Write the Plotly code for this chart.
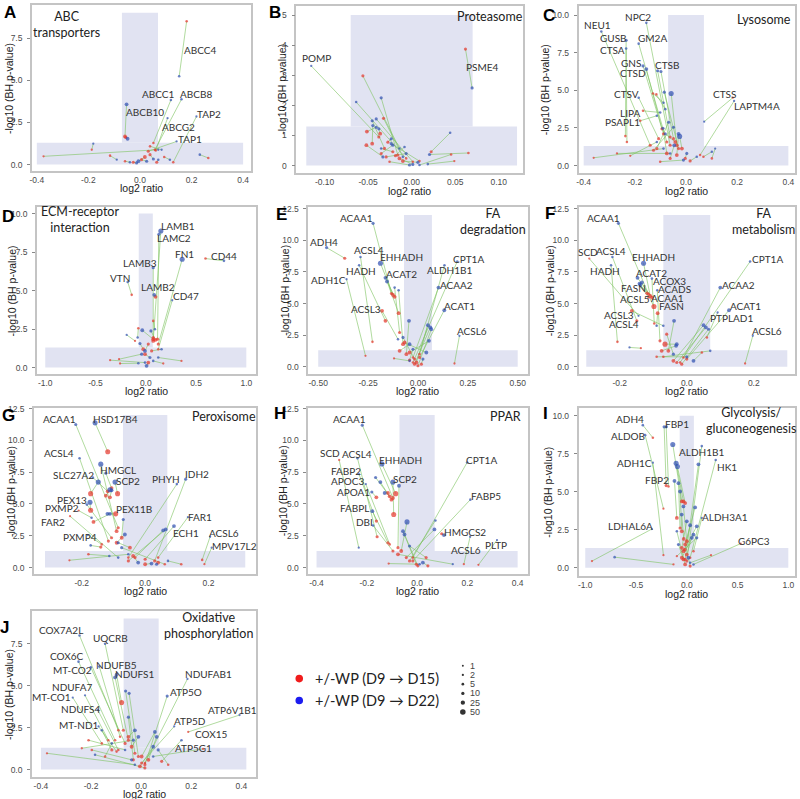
import math
import plotly.graph_objects as go

W, H = 800, 799

# ---------------- DATA ----------------
# Each panel: paired proteins, red = +/-WP (D9->D15), blue = +/-WP (D9->D22)
# x = log2 ratio, y = -log10(BH p-value), n = number of peptides (marker size)

# A: ABC transporters
A_red_x = [0.181, 0.052, 0.058, -0.058, -0.055, 0.061, 0.129, 0.032, -0.374, -0.187, -0.116, 0.265, 0.019, 0.039, -0.026, 0.006, -0.058, 0.094, 0.065, 0.039]
A_red_y = [8.50, 1.28, 0.88, 1.67, 1.61, 0.84, 0.14, 0.79, 0.49, 0.88, 0.53, 0.39, 0.45, 0.59, 0.14, 0.29, 0.20, 0.45, 0.14, 1.08]
A_red_n = [2, 2, 2, 10, 5, 2, 2, 5, 1, 1, 2, 2, 10, 5, 5, 5, 2, 2, 5, 2]
A_blue_x = [0.152, 0.120, 0.161, -0.052, -0.048, 0.107, 0.219, 0.142, 0.071, -0.181, -0.090, 0.232, -0.006, 0.052, -0.013, 0.026, -0.039, 0.116, 0.071, 0.084]
A_blue_y = [5.24, 3.83, 3.87, 3.57, 1.53, 2.75, 2.85, 1.37, 0.88, 1.24, 0.29, 0.59, 0.20, 0.33, 0.10, 0.20, 0.14, 0.29, 0.29, 0.88]
A_blue_n = [2, 2, 2, 10, 10, 1, 1, 1, 1, 1, 1, 2, 10, 5, 5, 5, 2, 2, 2, 1]
A_labels = [(0, 'b', 'ABCC4'), (1, 'b', 'ABCC1'), (2, 'b', 'ABCB8'), (3, 'b', 'ABCB10'),
            (5, 'b', 'ABCG2'), (6, 'b', 'TAP2'), (7, 'b', 'TAP1')]

# B: Proteasome
B_red_x = [-0.0377, 0.0618, -0.056, -0.0063, -0.0159, -0.0323, -0.0312, 0.0224, -0.0514, -0.0361, -0.0453, 0.0453, 0.0652, 0.049, -0.0273, -0.035, -0.0293, -0.0254, -0.014, -0.0101, -0.0186, 0.009, 0.0013, -0.052, -0.0216]
B_red_y = [0.95, 3.87, 2.98, 0.24, 0.35, 1.57, 0.57, 0.46, 1.13, 1.06, 0.73, 0.37, 0.42, 0.15, 0.78, 0.40, 0.29, 0.13, 0.24, 0.15, 0.33, 0.15, 0.13, 0.68, 0.46]
B_red_n = [5, 5, 5, 2, 5, 5, 5, 5, 10, 10, 10, 2, 2, 1, 5, 5, 5, 2, 10, 10, 5, 2, 2, 10, 5]
B_blue_x = [-0.1153, 0.0694, -0.014, -0.0637, -0.035, -0.0101, -0.0453, 0.0442, -0.0407, -0.0377, -0.0446, 0.009, 0.0205, 0.0185, -0.0235, -0.0216, -0.0063, -0.0025, 0.0013, 0.0071, -0.0082, -0.0235, -0.0407, -0.033, -0.035]
B_blue_y = [3.31, 2.58, 0.57, 2.11, 2.25, 0.29, 1.49, 1.09, 1.27, 1.22, 1.33, 0.02, 0.37, 0.05, 0.89, 0.68, 0.40, 0.02, 0.04, 0.11, 0.62, 0.73, 1.55, 0.29, 0.57]
B_blue_n = [1, 5, 2, 2, 5, 2, 5, 2, 5, 5, 5, 2, 5, 2, 5, 5, 5, 5, 5, 5, 2, 5, 5, 5, 2]
B_labels = [(0, 'b', 'POMP'), (1, 'r', 'PSME4')]

# C: Lysosome
C_red_x = [-0.14, -0.062, -0.237, -0.075, -0.231, -0.088, -0.094, -0.062, -0.049, -0.036, -0.029, -0.107, -0.129, -0.116, 0.183, 0.055, -0.168, -0.179, -0.016, -0.361, -0.270, -0.218, -0.075, -0.062, -0.003, 0.016, 0.068, -0.101, -0.042, -0.114, -0.036, 0.101, -0.127]
C_red_y = [1.35, 1.35, 1.96, 1.57, 1.57, 2.11, 2.44, 1.90, 1.79, 1.35, 1.13, 1.79, 4.79, 4.73, 4.51, 0.70, 3.64, 2.98, 1.13, 0.52, 0.81, 0.65, 0.81, 0.48, 0.48, 0.31, 0.59, 0.26, 1.57, 1.13, 0.70, 0.48, 1.02]
C_red_n = [5, 5, 2, 5, 2, 5, 5, 5, 5, 10, 5, 5, 2, 2, 1, 2, 2, 2, 10, 1, 1, 1, 10, 5, 5, 5, 2, 2, 10, 5, 10, 2, 5]
C_blue_x = [-0.331, -0.155, -0.234, -0.185, -0.234, -0.168, -0.155, -0.111, -0.098, -0.058, -0.085, -0.185, -0.088, -0.081, 0.071, 0.188, -0.101, -0.114, -0.025, -0.088, -0.062, -0.114, -0.090, -0.046, 0.003, 0.042, 0.101, -0.010, -0.081, -0.068, -0.029, 0.114, -0.049]
C_blue_y = [8.91, 9.48, 8.32, 8.10, 7.78, 6.62, 6.41, 6.30, 6.25, 4.79, 4.88, 4.51, 4.18, 3.75, 2.92, 4.29, 3.53, 3.31, 1.94, 1.13, 0.81, 1.57, 2.48, 1.35, 0.81, 0.59, 0.92, 0.37, 2.11, 2.88, 2.11, 1.13, 2.55]
C_blue_n = [2, 2, 5, 2, 2, 5, 10, 5, 5, 25, 5, 2, 2, 2, 1, 1, 2, 2, 25, 2, 2, 2, 5, 10, 5, 2, 2, 5, 5, 5, 10, 1, 5]
C_labels = [(0, 'b', 'NEU1'), (1, 'b', 'NPC2'), (2, 'b', 'GUSB'), (3, 'b', 'GM2A'), (4, 'b', 'CTSA'),
            (5, 'b', 'GNS'), (6, 'b', 'CTSD'), (7, 'b', 'CTSB'), (11, 'b', 'CTSV'), (14, 'r', 'CTSS'),
            (15, 'b', 'LAPTM4A'), (16, 'r', 'LIPA'), (17, 'r', 'PSAPL1')]

# D: ECM-receptor interaction
D_red_x = [0.074, 0.117, 0.594, 0.124, 0.074, -0.140, 0.097, 0.124, 0.074, -0.074, -0.107, -0.025, 0.074, 0.097, -0.355, 0.355, -0.266, 0.025, -0.008, 0.174, 0.058, 0.025, -0.256]
D_red_y = [1.73, 1.84, 7.08, 1.52, 1.95, 4.72, 4.59, 1.19, 1.84, 2.55, 1.73, 1.19, 3.03, 1.80, 0.48, 0.43, 0.54, 0.32, 0.87, 0.26, 1.08, 1.52, 0.26]
D_red_n = [10, 5, 2, 5, 5, 2, 10, 2, 10, 2, 1, 10, 2, 10, 1, 1, 1, 10, 10, 1, 5, 5, 1]
D_blue_x = [0.150, 0.130, 0.778, 0.362, 0.074, -0.180, 0.084, 0.263, -0.035, -0.081, -0.190, -0.058, 0.091, 0.051, -0.008, 0.124, -0.041, 0.008, 0.041, 0.074, 0.157, -0.008, -0.074]
D_blue_y = [8.87, 8.66, 6.93, 7.03, 6.49, 5.56, 4.72, 4.37, 2.42, 1.95, 2.12, 1.56, 2.49, 2.38, 0.32, 0.65, 0.87, 0.11, 0.65, 0.43, 1.19, 1.08, 0.28]
D_blue_n = [25, 5, 2, 25, 5, 2, 10, 1, 10, 2, 1, 5, 2, 5, 2, 2, 5, 10, 5, 2, 2, 10, 2]
D_labels = [(0, 'b', 'LAMB1'), (1, 'b', 'LAMC2'), (2, 'b', 'CD44'), (3, 'b', 'FN1'), (4, 'b', 'LAMB3'),
            (5, 'b', 'VTN'), (6, 'b', 'LAMB2'), (7, 'b', 'CD47')]

# E: FA degradation
E_red_x = [-0.133, -0.367, -0.228, -0.125, -0.163, -0.025, 0.008, -0.263, -0.117, -0.097, -0.025, -0.092, -0.075, 0.008, -0.058, -0.008, -0.017, 0.0, 0.183, -0.12, -0.042, -0.067, -0.092, -0.042, -0.017, 0.017, -0.18]
E_red_y = [5.79, 8.58, 1.97, 5.68, 3.63, 0.34, 1.0, 0.87, 5.53, 4.24, 0.74, 2.71, 1.79, 0.74, 1.0, 0.34, 0.21, 0.08, 0.26, 0.66, 1.13, 1.92, 1.26, 0.53, 0.61, 0.21, 4.42]
E_red_n = [5, 5, 2, 10, 10, 2, 2, 1, 10, 10, 2, 5, 10, 5, 10, 10, 5, 5, 1, 1, 10, 10, 10, 5, 5, 5, 10]
E_blue_x = [-0.225, -0.458, -0.288, -0.188, -0.295, 0.197, 0.133, -0.358, -0.163, -0.155, 0.103, -0.117, -0.097, 0.132, -0.045, 0.050, 0.062, 0.067, 0.208, -0.042, 0.055, 0.042, -0.042, -0.025, -0.075, 0.025, -0.1]
E_blue_y = [11.34, 9.42, 8.68, 8.18, 8.03, 8.32, 8.03, 6.92, 7.03, 6.74, 6.26, 6.26, 6.05, 4.47, 3.63, 3.29, 3.11, 2.97, 2.45, 0.47, 2.05, 1.13, 1.79, 1.39, 2.32, 0.61, 2.18]
E_blue_n = [5, 5, 2, 25, 2, 2, 2, 1, 10, 10, 10, 2, 2, 10, 10, 10, 10, 10, 1, 2, 10, 10, 10, 5, 5, 5, 2]
E_labels = [(0, 'b', 'ACAA1'), (1, 'b', 'ADH4'), (2, 'b', 'ACSL4'), (3, 'b', 'EHHADH'), (4, 'b', 'HADH'),
            (5, 'b', 'CPT1A'), (6, 'b', 'ALDH1B1'), (7, 'b', 'ADH1C'), (8, 'b', 'ACAT2'), (10, 'b', 'ACAA2'),
            (13, 'b', 'ACAT1'), (18, 'b', 'ACSL6'), (26, 'r', 'ACSL3')]

# F: FA metabolism
F_red_x = [-0.114, -0.291, -0.149, -0.207, -0.109, -0.020, -0.104, -0.098, -0.097, -0.080, -0.119, -0.114, -0.087, -0.010, 0.0, 0.060, 0.174, -0.164, -0.137, -0.055, -0.040, -0.030, -0.015, -0.065, -0.075, -0.060, 0.045, -0.070, -0.090]
F_red_y = [5.74, 8.55, 3.63, 1.97, 5.61, 0.34, 5.47, 4.76, 3.42, 2.05, 5.82, 5.47, 4.24, 0.74, 0.61, 2.32, 0.26, 4.42, 1.47, 1.26, 0.47, 0.34, 0.21, 1.79, 1.26, 2.58, 1.13, 0.79, 0.79]
F_red_n = [5, 1, 5, 2, 10, 2, 10, 25, 2, 5, 5, 2, 10, 2, 5, 2, 1, 10, 1, 10, 10, 5, 5, 25, 10, 5, 2, 2, 2]
F_blue_x = [-0.204, -0.144, -0.222, -0.226, -0.129, 0.189, -0.147, -0.134, -0.104, -0.088, -0.141, -0.139, -0.090, 0.100, 0.126, 0.092, 0.197, -0.070, -0.171, -0.038, 0.050, 0.057, 0.065, -0.030, -0.032, -0.040, 0.020, 0.070, 0.0]
F_blue_y = [11.34, 4.03, 8.68, 8.03, 8.18, 8.32, 7.03, 6.66, 6.97, 6.05, 6.58, 6.47, 3.24, 6.26, 4.47, 4.29, 2.45, 3.24, 1.53, 3.63, 3.29, 3.11, 2.97, 1.79, 1.66, 1.0, 0.47, 1.26, 0.79]
F_blue_n = [5, 1, 2, 2, 25, 2, 10, 10, 2, 2, 10, 10, 2, 10, 10, 1, 1, 2, 1, 10, 10, 10, 5, 10, 10, 5, 10, 2, 5]
F_labels = [(0, 'b', 'ACAA1'), (0, 'r', 'ACAA1'), (1, 'r', 'SCD'), (2, 'b', 'ACSL4'), (2, 'r', 'ACSL4'),
            (3, 'b', 'HADH'), (4, 'b', 'EHHADH'), (5, 'b', 'CPT1A'), (6, 'b', 'ACAT2'), (8, 'b', 'ACOX3'),
            (9, 'b', 'ACADS'), (10, 'r', 'FASN'), (11, 'r', 'ACSL5'), (12, 'r', 'FASN'), (13, 'b', 'ACAA2'),
            (14, 'b', 'ACAT1'), (15, 'b', 'PTPLAD1'), (16, 'b', 'ACSL6'), (17, 'r', 'ACSL3')]

# G: Peroxisome
G_red_x = [-0.085, -0.118, -0.116, -0.090, -0.106, -0.118, -0.087, -0.053, 0.030, -0.172, -0.124, -0.111, -0.106, -0.172, -0.210, -0.093, -0.237, -0.163, 0.041, 0.0, -0.032, -0.053, -0.137, 0.180, 0.187, -0.140, -0.239, -0.074, -0.090, -0.048, -0.038, 0.0, 0.041, -0.179, 0.114, 0.062]
G_red_y = [3.13, 9.11, 2.08, 2.86, 6.25, 5.99, 5.81, 0.78, 0.52, 5.81, 5.65, 5.52, 2.34, 4.50, 4.48, 4.22, 4.04, 3.59, 0.78, 0.65, 0.78, 0.52, 1.82, 0.60, 0.26, 1.61, 0.57, 2.34, 1.95, 1.56, 0.91, 0.26, 0.39, 1.04, 0.26, 0.26]
G_red_n = [5, 25, 5, 10, 10, 10, 25, 2, 5, 25, 10, 10, 5, 25, 1, 25, 1, 10, 2, 5, 5, 5, 2, 2, 1, 5, 1, 10, 10, 10, 10, 10, 10, 2, 2, 2]
G_blue_x = [-0.219, -0.158, -0.207, -0.140, -0.124, -0.165, -0.095, 0.100, 0.128, -0.148, -0.111, -0.106, -0.184, -0.174, -0.169, -0.119, -0.085, -0.111, 0.135, 0.091, 0.057, 0.065, -0.181, 0.205, 0.210, -0.172, -0.053, -0.069, -0.064, -0.085, -0.022, 0.020, 0.036, -0.113, 0.072, -0.074]
G_blue_y = [11.25, 11.38, 8.59, 8.13, 7.42, 7.08, 6.72, 6.56, 6.95, 6.72, 6.12, 6.07, 4.95, 5.13, 3.91, 4.22, 0.78, 4.22, 3.96, 3.26, 2.92, 3.0, 2.55, 2.42, 1.56, 1.74, 1.04, 3.78, 2.60, 1.95, 0.39, 0.31, 0.26, 0.91, 0.52, 1.56]
G_blue_n = [5, 25, 2, 25, 5, 2, 25, 2, 5, 25, 25, 10, 2, 25, 2, 10, 2, 10, 1, 10, 10, 10, 1, 1, 1, 2, 2, 5, 10, 5, 10, 10, 5, 2, 2, 5]
G_labels = [(0, 'b', 'ACAA1'), (1, 'b', 'HSD17B4'), (2, 'b', 'ACSL4'), (4, 'b', 'HMGCL'), (5, 'b', 'SLC27A2'),
            (6, 'b', 'SCP2'), (7, 'b', 'PHYH'), (8, 'b', 'IDH2'), (12, 'b', 'PEX13'), (14, 'r', 'PXMP2'),
            (15, 'r', 'PEX11B'), (16, 'r', 'FAR2'), (18, 'b', 'FAR1'), (19, 'b', 'ECH1'), (22, 'b', 'PXMP4'),
            (23, 'b', 'ACSL6'), (24, 'b', 'MPV17L2')]

# H: PPAR
H_red_x = [-0.096, -0.310, -0.159, -0.085, -0.017, -0.162, -0.109, -0.162, -0.116, -0.096, -0.017, -0.093, -0.076, -0.109, -0.102, -0.116, -0.063, 0.098, 0.186, 0.244, -0.030, -0.043, -0.003, 0.003, 0.036, -0.113, 0.043, -0.076]
H_red_y = [5.47, 8.46, 2.42, 5.81, 0.78, 3.65, 1.82, 5.52, 1.95, 1.30, 0.52, 4.17, 1.56, 5.60, 5.34, 5.86, 1.30, 2.66, 0.26, 0.21, 0.52, 0.78, 0.26, 0.13, 0.78, 0.31, 0.13, 1.04]
H_red_n = [10, 1, 5, 25, 2, 5, 2, 10, 5, 5, 5, 25, 5, 10, 10, 10, 10, 5, 1, 1, 5, 5, 5, 5, 5, 1, 5, 10]
H_blue_x = [-0.218, -0.232, -0.237, -0.140, 0.199, -0.231, -0.204, -0.180, -0.178, -0.175, 0.212, -0.096, -0.072, -0.165, -0.146, -0.129, -0.040, 0.107, 0.211, 0.318, 0.073, 0.069, -0.056, -0.050, -0.030, 0.010, 0.023, 0.142]
H_blue_y = [11.20, 1.56, 8.59, 8.15, 8.26, 7.34, 6.56, 5.94, 4.43, 3.31, 5.34, 6.72, 6.43, 7.08, 6.72, 5.86, 3.59, 2.55, 2.42, 2.16, 3.70, 3.0, 2.86, 2.60, 1.69, 0.26, 0.39, 0.26]
H_blue_n = [5, 1, 2, 25, 2, 1, 1, 5, 10, 2, 2, 25, 10, 5, 10, 10, 25, 10, 1, 1, 2, 10, 10, 10, 5, 2, 10, 1]
H_labels = [(0, 'b', 'ACAA1'), (1, 'r', 'SCD'), (2, 'b', 'ACSL4'), (3, 'b', 'EHHADH'), (4, 'b', 'CPT1A'),
            (5, 'b', 'FABP2'), (6, 'b', 'APOC3'), (7, 'b', 'APOA1'), (8, 'b', 'FABPL'), (9, 'b', 'DBI'),
            (10, 'b', 'FABP5'), (11, 'b', 'SCP2'), (17, 'b', 'HMGCS2'), (18, 'b', 'ACSL6'), (19, 'b', 'PLTP')]

# I: Glycolysis / gluconeogenesis
I_red_x = [-0.334, -0.230, -0.203, -0.180, -0.049, 0.0, -0.016, 0.033, -0.230, -0.033, -0.016, -0.098, -0.066, -0.049, 0.066, -0.016, -0.033, -0.049, -0.934, -0.131, 0.531, 0.239, 0.0, -0.049, 0.0, -0.016, 0.033, -0.033, -0.098, -0.020, -0.030]
I_red_y = [8.56, 3.89, 5.41, 5.35, 4.37, 0.44, 0.55, 0.66, 0.83, 4.37, 4.26, 3.28, 2.62, 2.40, 1.09, 1.53, 1.09, 0.66, 0.44, 0.22, 1.59, 0.83, 1.75, 1.31, 0.87, 0.22, 0.11, 0.55, 0.76, 1.20, 1.90]
I_red_n = [2, 1, 5, 2, 10, 5, 5, 2, 1, 10, 10, 10, 5, 10, 2, 10, 10, 10, 1, 1, 1, 1, 10, 10, 10, 10, 5, 10, 1, 10, 10]
I_blue_x = [-0.433, -0.410, -0.223, -0.203, -0.138, 0.148, 0.115, 0.285, -0.334, -0.105, -0.092, -0.121, -0.082, -0.066, 0.148, 0.082, 0.098, 0.066, -0.344, -0.711, 0.066, 0.033, -0.033, 0.0, 0.049, -0.098, 0.016, -0.082, 0.098, 0.033, -0.050]
I_blue_y = [9.39, 8.73, 9.28, 9.28, 8.12, 8.01, 6.81, 7.10, 6.92, 6.88, 6.66, 5.72, 5.57, 5.02, 3.28, 3.97, 2.73, 2.18, 2.55, 0.70, 0.22, 0.33, 4.04, 3.06, 1.97, 2.40, 0.66, 1.53, 1.97, 2.80, 3.50]
I_blue_n = [2, 2, 5, 5, 25, 2, 10, 2, 1, 25, 25, 10, 10, 10, 1, 10, 10, 10, 1, 2, 2, 2, 10, 10, 10, 2, 10, 5, 5, 10, 10]
I_labels = [(0, 'b', 'ADH4'), (1, 'b', 'ALDOB'), (2, 'b', 'FBP1'), (3, 'r', 'FBP2'), (6, 'b', 'ALDH1B1'),
            (7, 'b', 'HK1'), (8, 'b', 'ADH1C'), (14, 'b', 'ALDH3A1'), (18, 'b', 'LDHAL6A'), (20, 'r', 'G6PC3')]

# J: Oxidative phosphorylation
J_red_x = [-0.091, -0.071, -0.104, -0.064, -0.084, -0.051, -0.078, 0.015, -0.131, -0.157, 0.015, -0.025, -0.011, -0.091, 0.188, 0.002, 0.247, 0.108, -0.098, -0.031, -0.051, -0.038, 0.002, 0.029, -0.005, -0.144, -0.197, 0.015, -0.376, 0.082, -0.21, -0.117, -0.237]
J_red_y = [2.34, 2.34, 1.75, 1.56, 1.95, 1.75, 3.99, 0.39, 1.75, 1.56, 0.29, 0.97, 0.78, 1.17, 2.24, 0.39, 1.23, 0.29, 1.07, 0.58, 1.95, 1.36, 0.78, 0.58, 0.19, 0.78, 1.17, 0.10, 0.97, 0.49, 1.75, 1.17, 1.27]
J_red_n = [2, 5, 2, 5, 2, 5, 25, 2, 2, 2, 5, 5, 5, 2, 1, 5, 1, 2, 2, 5, 10, 10, 10, 10, 10, 2, 2, 5, 1, 5, 2, 5, 1]
J_blue_x = [-0.246, -0.144, -0.250, -0.201, -0.167, -0.104, -0.098, 0.185, -0.224, -0.273, 0.104, -0.062, -0.048, -0.173, 0.393, 0.132, 0.048, 0.068, -0.170, -0.051, -0.025, -0.011, 0.055, 0.062, 0.048, -0.117, -0.038, -0.184, -0.025, 0.161, -0.064, -0.157, -0.031]
J_blue_y = [7.99, 7.50, 6.43, 6.10, 6.14, 5.49, 5.65, 5.40, 4.42, 4.29, 4.38, 4.68, 4.54, 3.55, 3.25, 2.57, 0.78, 1.17, 2.57, 3.12, 2.34, 1.95, 2.24, 1.95, 1.36, 1.56, 0.58, 0.88, 0.29, 1.75, 1.17, 2.34, 1.75]
J_blue_n = [2, 2, 2, 2, 2, 10, 10, 1, 1, 1, 5, 5, 5, 1, 1, 1, 2, 5, 1, 5, 10, 10, 10, 10, 10, 2, 5, 2, 2, 2, 2, 2, 5]
J_labels = [(0, 'b', 'COX7A2L'), (1, 'b', 'UQCRB'), (2, 'b', 'COX6C'), (3, 'b', 'MT-CO2'), (4, 'b', 'NDUFB5'),
            (5, 'b', 'NDUFS1'), (7, 'b', 'NDUFAB1'), (8, 'b', 'NDUFA7'), (9, 'b', 'MT-CO1'), (10, 'b', 'ATP5O'),
            (13, 'b', 'NDUFS4'), (14, 'b', 'ATP6V1B1'), (15, 'b', 'ATP5D'), (16, 'r', 'COX15'), (17, 'r', 'ATP5G1'),
            (18, 'b', 'MT-ND1')]

SIZE_LEGEND = [1, 2, 5, 10, 25, 50]

# ---------------- LAYOUT (label offsets in px, panel geometry) ----------------
LABEL_OFFSETS = {
    'A': [(21, 26), (-13, 6), (15, 5), (18, -8), (11, -9), (13, 3), (13, 2)],
    'B': [(5, 8), (17, -18)],
    'C': [(-4, 6), (-8, 6), (-13, 2), (14, 6), (-14, -2), (-12, 3), (-13, -4), (9, 6), (-12, 4), (-8, 4),
          (23, -5), (-13, -2), (-18, -1)],
    'D': [(17, 5), (15, -4), (0, 5), (2, 5), (-13, 5), (-8, 4), (4, 8), (14, 4)],
    'E': [(-17, 5), (-3, 6), (8, 7), (21, 6), (2, -6), (11, 3), (5, -5), (-18, -1), (16, 4), (18, 3),
          (15, 4), (13, 5), (-16, 2)],
    'F': [(-15, 5), (19, -4), (-1, 7), (-1, 6), (-13, -3), (-6, -6), (10, 6), (17, 3), (14, 5), (18, -2),
          (17, 1), (-13, 5), (-14, -1), (14, 7), (18, 3), (16, 4), (14, -5), (14, 5), (-13, -4)],
    'G': [(-16, 5), (20, 4), (-21, 5), (12, 3), (-19, 3), (13, 1), (-11, 5), (11, 5), (-15, 5), (-17, 3),
          (18, 5), (-17, -6), (12, 0), (12, -7), (-8, -2), (14, 4), (23, 2)],
    'H': [(-13, 6), (-9, 7), (-1, 4), (19, 4), (14, 3), (-13, 3), (-18, 3), (-18, 0), (-18, 3), (-9, 3),
          (16, 4), (12, 3), (21, 3), (-4, -13), (-1, -5)],
    'I': [(-13, 6), (-17, -1), (13, 3), (-12, 6), (3, 12), (11, -7), (-18, 0), (23, 1), (-21, 3), (13, 3)],
    'J': [(-19, 5), (5, 6), (-12, 6), (-18, -3), (17, 2), (20, 3), (21, 5), (-13, 8), (-21, 1), (19, 4),
          (-17, 1), (-7, 5), (16, 5), (8, 15), (25, 17), (-20, 1)],
}

PANELS = [
    dict(key='A', letter_xy=(8, 9), title='ABC<br>transporters', title_xy=(65, 21), title_anchor='center',
         box=(30, 250, 1, 168), xr=(-0.419, 0.432), yr=(-0.39, 9.46),
         xt=[-0.4, -0.2, 0, 0.2, 0.4], xd=1, yt=[0, 2.5, 5, 7.5], yd=1, hx=(-0.4, 0.4), vtop=9, ytx=7, xty=185),
    dict(key='B', letter_xy=(274, 9), title='Proteasome', title_xy=(524, 13), title_anchor='right',
         box=(295, 522, 2, 170), xr=(-0.1325, 0.1275), yr=(-0.25, 5.3),
         xt=[-0.1, -0.05, 0, 0.05, 0.1], xd=2, yt=[0, 1, 2, 3, 4, 5], yd=0, hx=(-0.121, 0.121), vtop=5, ytx=280, xty=188),
    dict(key='C', letter_xy=(548, 12), title='Lysosome', title_xy=(793, 16), title_anchor='right',
         box=(578, 795, 2, 170), xr=(-0.42, 0.426), yr=(-0.5, 10.6),
         xt=[-0.4, -0.2, 0, 0.2, 0.4], xd=1, yt=[0, 2.5, 5, 7.5, 10], yd=1, hx=(-0.4, 0.4), vtop=10, ytx=544, xty=188),
    dict(key='D', letter_xy=(6, 214), title='ECM-receptor<br>interaction', title_xy=(78, 217), title_anchor='center',
         box=(35, 255, 204, 372), xr=(-1.083, 1.1), yr=(-0.43, 10.43),
         xt=[-1, -0.5, 0, 0.5, 1], xd=1, yt=[0, 2.5, 5, 7.5, 10], yd=1, hx=(-1, 1), vtop=10, ytx=10, xty=389),
    dict(key='E', letter_xy=(280, 212), title='FA<br>degradation', title_xy=(492, 219), title_anchor='center',
         box=(307, 527, 204, 372), xr=(-0.55, 0.55), yr=(-0.58, 12.63),
         xt=[-0.5, -0.25, 0, 0.25, 0.5], xd=2, yt=[0, 2.5, 5, 7.5, 10, 12.5], yd=1, hx=(-0.5, 0.5), vtop=12, ytx=283, xty=389),
    dict(key='F', letter_xy=(549, 211), title='FA<br>metabolism', title_xy=(763, 219), title_anchor='center',
         box=(578, 795, 204, 372), xr=(-0.323, 0.323), yr=(-0.58, 12.63),
         xt=[-0.2, 0, 0.2], xd=1, yt=[0, 2.5, 5, 7.5, 10, 12.5], yd=1, hx=(-0.3, 0.3), vtop=12, ytx=549, xty=389),
    dict(key='G', letter_xy=(7, 414), title='Peroxisome', title_xy=(257, 415), title_anchor='right',
         box=(32, 255, 406, 573), xr=(-0.351, 0.351), yr=(-0.52, 12.55),
         xt=[-0.2, 0, 0.2], xd=1, yt=[0, 2.5, 5, 7.5, 10, 12.5], yd=1, hx=(-0.316, 0.316), vtop=12, ytx=9, xty=590),
    dict(key='H', letter_xy=(279, 412), title='PPAR', title_xy=(522, 415), title_anchor='right',
         box=(307, 527, 406, 573), xr=(-0.433, 0.44), yr=(-0.52, 12.55),
         xt=[-0.4, -0.2, 0, 0.2, 0.4], xd=1, yt=[0, 2.5, 5, 7.5, 10, 12.5], yd=1, hx=(-0.4, 0.4), vtop=12, ytx=282, xty=590),
    dict(key='I', letter_xy=(545, 412), title='Glycolysis/<br>gluconeogenesis', title_xy=(751, 419), title_anchor='center',
         box=(578, 795, 406, 575), xr=(-1.066, 1.066), yr=(-0.55, 10.52),
         xt=[-1, -0.5, 0, 0.5, 1], xd=1, yt=[0, 2.5, 5, 7.5, 10], yd=1, hx=(-1, 1), vtop=10, ytx=547, xty=593),
    dict(key='J', letter_xy=(3, 627), title='Oxidative<br>phosphorylation', title_xy=(207, 625), title_anchor='center',
         box=(30, 255, 610, 777), xr=(-0.436, 0.46), yr=(-0.45, 9.45),
         xt=[-0.4, -0.2, 0, 0.2, 0.4], xd=1, yt=[0, 2.5, 5, 7.5], yd=1, hx=(-0.4, 0.42), vtop=9, ytx=7, xty=794),
]

DATA = {k: (globals()[k + '_red_x'], globals()[k + '_red_y'], globals()[k + '_red_n'],
            globals()[k + '_blue_x'], globals()[k + '_blue_y'], globals()[k + '_blue_n'],
            globals()[k + '_labels']) for k in 'ABCDEFGHIJ'}

RED = '#e5352b'
BLUE = '#2f4fb2'
GREEN = 'rgba(125,195,95,0.6)'
SHADE = '#e1e3f2'
FRAME = '#c4c4c4'
TICKFONT = dict(family='Liberation Sans, Arial, sans-serif', size=8.5, color='#4a4a4a')
LABFONT = dict(family='Lato, sans-serif', size=10, color='#333333')


def msize(n):
    return 1.6 + 0.7 * math.sqrt(n)


def px(x):
    return x / W


def py(y):
    return 1 - y / H


fig = go.Figure()
annotations = []
shapes = []
layout_axes = {}

for i, p in enumerate(PANELS):
    k = p['key']
    rx, ry, rn, bx, by, bn, labels = DATA[k]
    n = i + 1
    xa = 'x' if n == 1 else f'x{n}'
    ya = 'y' if n == 1 else f'y{n}'
    xkey = 'xaxis' if n == 1 else f'xaxis{n}'
    ykey = 'yaxis' if n == 1 else f'yaxis{n}'

    # connecting lines
    lx, ly = [], []
    for a, b, c, d in zip(rx, ry, bx, by):
        lx += [a, c, None]
        ly += [b, d, None]
    fig.add_trace(go.Scatter(x=lx, y=ly, mode='lines', line=dict(color=GREEN, width=1),
                             xaxis=xa, yaxis=ya, hoverinfo='skip', showlegend=False))
    fig.add_trace(go.Scatter(x=rx, y=ry, mode='markers',
                             marker=dict(color=RED, size=[msize(v) for v in rn], line=dict(width=0)),
                             xaxis=xa, yaxis=ya, showlegend=False))
    fig.add_trace(go.Scatter(x=bx, y=by, mode='markers',
                             marker=dict(color=BLUE, size=[msize(v) for v in bn], line=dict(width=0)),
                             xaxis=xa, yaxis=ya, showlegend=False))

    x0, x1, y0, y1 = p['box']
    xfmt = '{:.%df}' % p['xd']
    yfmt = '{:.%df}' % p['yd']
    layout_axes[xkey] = dict(domain=[px(x0), px(x1)], range=list(p['xr']), anchor=ya,
                             tickvals=p['xt'], ticktext=[xfmt.format(v) for v in p['xt']],
                             showgrid=False, zeroline=False, showline=True, mirror=True,
                             linecolor=FRAME, linewidth=1.5, ticks='', ticklabelstandoff=0,
                             tickfont=TICKFONT)
    layout_axes[ykey] = dict(domain=[py(y1), py(y0)], range=list(p['yr']), anchor=xa,
                             tickvals=p['yt'], ticktext=[yfmt.format(v) for v in p['yt']],
                             showgrid=False, zeroline=False, showline=True, mirror=True,
                             linecolor=FRAME, linewidth=1.5, ticks='outside', ticklen=3,
                             tickcolor='#888888', tickfont=TICKFONT, ticklabelstandoff=3)

    # shaded non-significant regions
    shapes.append(dict(type='rect', xref=xa, yref=ya, x0=p['hx'][0], x1=p['hx'][1], y0=0, y1=1.3,
                       fillcolor=SHADE, line=dict(width=0), layer='below'))
    shapes.append(dict(type='rect', xref=xa, yref=ya, x0=-0.07, x1=0.07, y0=1.3, y1=p['vtop'],
                       fillcolor=SHADE, line=dict(width=0), layer='below'))

    # gene labels
    for (idx, which, text), (dx, dy) in zip(labels, LABEL_OFFSETS[k]):
        if which == 'b':
            gx, gy = bx[idx], by[idx]
        else:
            gx, gy = rx[idx], ry[idx]
        annotations.append(dict(x=gx, y=gy, xref=xa, yref=ya, text=text, showarrow=False,
                                xshift=dx, yshift=dy, font=LABFONT, xanchor='center', yanchor='middle'))

    # panel letter
    lx_, ly_ = p['letter_xy']
    annotations.append(dict(x=px(lx_), y=py(ly_), xref='paper', yref='paper', text=f'<b>{k}</b>',
                            showarrow=False, xanchor='center', yanchor='middle',
                            font=dict(family='Liberation Sans, Arial, sans-serif', size=17, color='black')))
    # panel title
    tx, ty = p['title_xy']
    annotations.append(dict(x=px(tx), y=py(ty), xref='paper', yref='paper', text=p['title'],
                            showarrow=False, xanchor=p['title_anchor'], yanchor='middle',
                            align='center', font=dict(family='Lato, sans-serif', size=12.5, color='#222222')))
    # axis titles
    annotations.append(dict(x=px((x0 + x1) / 2), y=py(p['xty']), xref='paper', yref='paper',
                            text='log2 ratio', showarrow=False, xanchor='center', yanchor='middle',
                            font=dict(family='Liberation Sans, Arial, sans-serif', size=10.5, color='#222222')))
    annotations.append(dict(x=px(p['ytx']), y=py((y0 + y1) / 2), xref='paper', yref='paper',
                            text='-log10 (BH p-value)', showarrow=False, textangle=-90,
                            xanchor='center', yanchor='middle',
                            font=dict(family='Liberation Sans, Arial, sans-serif', size=10.5, color='#222222')))

# ---------------- legends ----------------
LEG_COLORS = ['#f01c1c', '#1c1cf0']
LEG_TEXT = ['+/-WP (D9 \u2192 D15)', '+/-WP (D9 \u2192 D22)']
for j, (c, t) in enumerate(zip(LEG_COLORS, LEG_TEXT)):
    cy = 678 + 22 * j
    r = 3.8
    shapes.append(dict(type='circle', xref='paper', yref='paper', x0=px(298 - r), x1=px(298 + r),
                       y0=py(cy + r), y1=py(cy - r), fillcolor=c, line=dict(width=0)))
    annotations.append(dict(x=px(312), y=py(cy), xref='paper', yref='paper', text=t, showarrow=False,
                            xanchor='left', yanchor='middle',
                            font=dict(family='Lato, sans-serif', size=14.5, color='#222222')))

for j, v in enumerate(SIZE_LEGEND):
    cy = 665 + 9.3 * j
    r = msize(v) / 2 * 0.85
    shapes.append(dict(type='circle', xref='paper', yref='paper', x0=px(462 - r), x1=px(462 + r),
                       y0=py(cy + r), y1=py(cy - r), fillcolor='#333333', line=dict(width=0)))
    annotations.append(dict(x=px(467), y=py(cy), xref='paper', yref='paper', text=str(v), showarrow=False,
                            xanchor='left', yanchor='middle',
                            font=dict(family='Liberation Sans, Arial, sans-serif', size=9, color='#444444')))

fig.update_layout(width=W, height=H, margin=dict(l=0, r=0, t=0, b=0),
                  paper_bgcolor='white', plot_bgcolor='white', showlegend=False,
                  annotations=annotations, shapes=shapes, **layout_axes)

fig.write_html('out.html', config={'displayModeBar': False},
               post_script="document.body.style.margin='0px';document.body.style.padding='0px';"
                           "document.body.style.overflow='hidden';")
